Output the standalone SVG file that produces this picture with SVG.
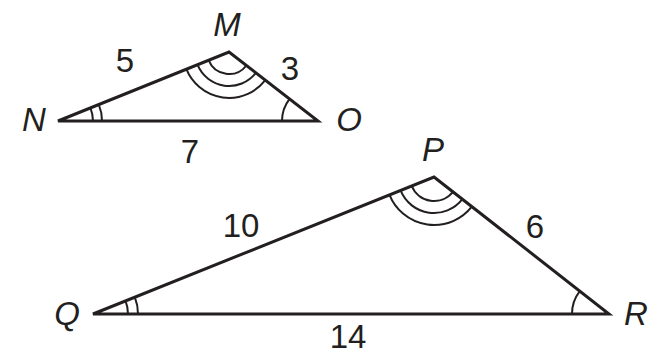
<svg xmlns="http://www.w3.org/2000/svg" width="657" height="354" viewBox="0 0 657 354">
<style>
.side{fill:none;stroke:#231f20;stroke-width:3;stroke-linejoin:miter}
.arc{fill:none;stroke:#231f20;stroke-width:2}
text{font-family:"Liberation Sans",Arial,sans-serif;font-size:33px;fill:#231f20;text-anchor:middle}
.v{font-style:italic}
</style>
<rect width="657" height="354" fill="#fff"/>
<g id="triangle-MNO">
<polygon class="side" points="58,121 229,52 318,121"/>
<path class="arc" d="M208.6 60.2 A22 22 0 0 0 246.4 65.5 M197.5 64.7 A34 34 0 0 0 255.9 72.8 M186.4 69.2 A46 46 0 0 0 265.3 80.2"/>
<path class="arc" d="M93 121 A35 35 0 0 0 90.4 107.9 M102 121 A44 44 0 0 0 98.8 104.5"/>
<path class="arc" d="M282 121 A36 36 0 0 1 289.6 98.9"/>
<text class="v" x="227" y="36">M</text>
<text class="v" x="34" y="131">N</text>
<text class="v" x="349" y="131">O</text>
<text x="125" y="72">5</text>
<text x="290" y="80">3</text>
<text x="190" y="163">7</text>
</g>
<g id="triangle-PQR">
<polygon class="side" points="93,314 434,177 609,314"/>
<path class="arc" d="M411.7 185.9 A24 24 0 0 0 452.9 191.8 M400.6 190.4 A36 36 0 0 0 462.4 199.2 M389.5 194.9 A48 48 0 0 0 471.8 206.6"/>
<path class="arc" d="M128 314 A35 35 0 0 0 125.5 300.9 M138 314 A45 45 0 0 0 134.8 297.2"/>
<path class="arc" d="M572 314 A37 37 0 0 1 579.8 291.2"/>
<text class="v" x="433" y="161">P</text>
<text class="v" x="67" y="325">Q</text>
<text class="v" x="636" y="325">R</text>
<text x="241" y="237">10</text>
<text x="535" y="238">6</text>
<text x="348" y="348">14</text>
</g>
</svg>
